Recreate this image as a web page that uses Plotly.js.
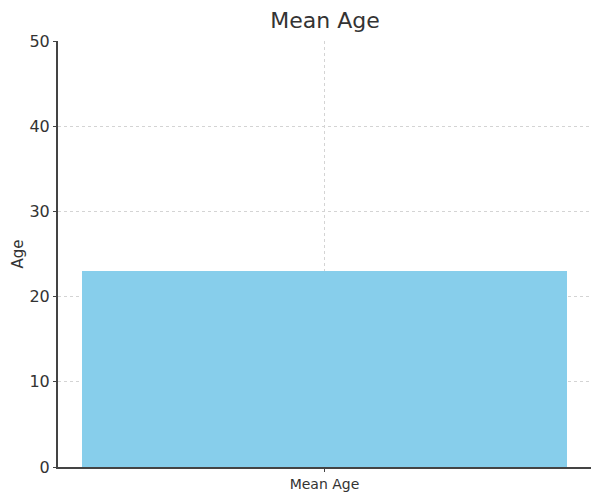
<!DOCTYPE html>
<html>
<head>
<meta charset="utf-8">
<script src="https://cdn.plot.ly/plotly-3.0.1.min.js"></script>
<style>html,body{margin:0;padding:0;background:#fff;}#chart{width:591px;height:493px;}</style>
</head>
<body>
<div id="chart"></div>
<script>
const categories = ["Mean Age"];
const meanAge = [23];
const yTicks = [0, 10, 20, 30, 40, 50];

const trace = {
  type: "bar",
  x: categories,
  y: meanAge,
  width: 0.8,
  marker: {color: "#87CEEB", line: {width: 0}},
  hoverinfo: "none"
};

const layout = {
  width: 591, height: 493,
  margin: {l: 58, r: 0, t: 41, b: 26, pad: 0},
  paper_bgcolor: "#fff", plot_bgcolor: "#fff",
  font: {family: "DejaVu Sans, sans-serif", color: "#333", size: 15},
  title: {text: "Mean Age", font: {size: 22, color: "#333"}, x: 0.55, xanchor: "center", y: 0.975, yanchor: "top"},
  showlegend: false,
  bargap: 0,
  xaxis: {
    type: "category", range: [-0.44, 0.44],
    showgrid: true, gridcolor: "#d4d4d4", griddash: "dot", gridwidth: 1,
    showline: true, linecolor: "#444", linewidth: 2,
    ticks: "outside", ticklen: 3, tickcolor: "#444",
    tickfont: {size: 14, color: "#333"},
    zeroline: false, layer: "above traces"
  },
  yaxis: {
    range: [0, 50], tickvals: yTicks,
    showgrid: true, gridcolor: "#d4d4d4", griddash: "dot", gridwidth: 1,
    showline: true, linecolor: "#444", linewidth: 2,
    ticks: "outside", ticklen: 3, tickcolor: "#444",
    tickfont: {size: 16, color: "#333"},
    zeroline: false,
    title: {text: "Age", font: {size: 15, color: "#333"}, standoff: 2}
  }
};

Plotly.newPlot("chart", [trace], layout, {displayModeBar: false, staticPlot: true});
</script>
</body>
</html>
